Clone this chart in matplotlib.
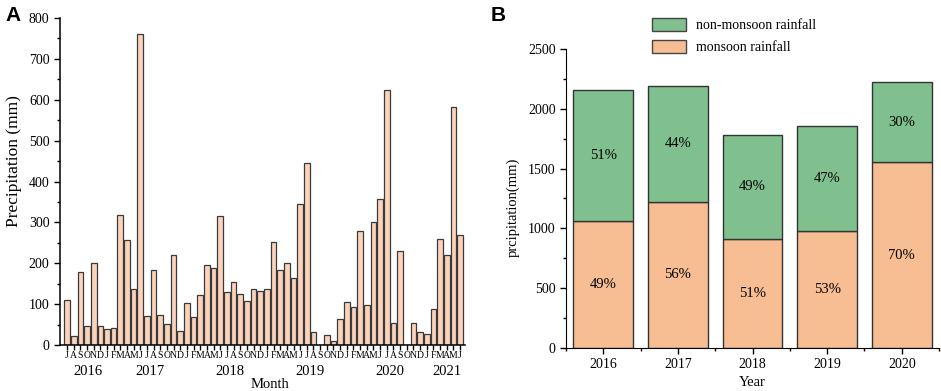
import numpy as np
import matplotlib.pyplot as plt
from matplotlib.ticker import MultipleLocator
from matplotlib.transforms import blended_transform_factory
from matplotlib.patches import Patch

plt.rcParams['font.family'] = ['Liberation Serif', 'DejaVu Serif']

# monthly precipitation, Jul 2016 .. Jun 2021
months = ['J', 'A', 'S', 'O', 'N', 'D'] + ['J', 'F', 'M', 'A', 'M', 'J', 'J', 'A', 'S', 'O', 'N', 'D'] * 4 \
    + ['J', 'F', 'M', 'A', 'M', 'J']
precip = [109, 21, 179, 46, 201, 47,
          39, 42, 318, 256, 136, 762, 70, 184, 73, 52, 221, 35,
          102, 69, 123, 195, 189, 316, 130, 154, 124, 107, 137, 131,
          136, 251, 183, 201, 163, 346, 445, 33, 0, 25, 9, 64,
          105, 93, 279, 98, 300, 358, 624, 54, 229, 0, 54, 33,
          28, 88, 260, 220, 582, 270]
year_labels = ['2016', '2017', '2018', '2019', '2020', '2021']
year_pos = [3.1, 12.4, 24.4, 36.4, 48.4, 57.1]

# yearly monsoon / non-monsoon totals
years = ['2016', '2017', '2018', '2019', '2020']
monsoon = [1062, 1223, 909, 981, 1555]
total = [2160, 2191, 1784, 1856, 2221]
non_monsoon = [t - m for t, m in zip(total, monsoon)]
pct_monsoon = ['49%', '56%', '51%', '53%', '70%']
pct_non = ['51%', '44%', '49%', '47%', '30%']

fig = plt.figure(figsize=(9.41, 3.91), dpi=100)

# ---- panel A ----
ax1 = fig.add_axes([0.0638, 0.1176, 0.4304, 0.8364])
x = np.arange(len(precip))
ax1.bar(x, precip, width=0.85, color='#fbd3bb', edgecolor='#3a3a3a', linewidth=0.9)
ax1.set_xlim(-1.05, 59.75)
ax1.set_ylim(0, 800)
ax1.set_xticks(x)
ax1.set_xticklabels(months, fontsize=7)
ax1.yaxis.set_major_locator(MultipleLocator(100))
ax1.yaxis.set_minor_locator(MultipleLocator(50))
ax1.tick_params(axis='y', labelsize=10, length=4, width=1)
ax1.tick_params(axis='y', which='minor', length=2, width=1)
ax1.tick_params(axis='x', length=3.5, width=1, pad=1)
for s in ['top', 'right']:
    ax1.spines[s].set_visible(False)
for s in ['left', 'bottom']:
    ax1.spines[s].set_linewidth(1.1)
trans = blended_transform_factory(ax1.transData, ax1.transAxes)
for lab, p in zip(year_labels, year_pos):
    ax1.text(p, -0.082, lab, transform=trans, ha='center', va='center', fontsize=10.5)
ax1.set_ylabel('Precipitation (mm)', fontsize=12.5)
ax1.yaxis.set_label_coords(-0.094, 0.563)
fig.text(270 / 941, 3 / 391, 'Month', ha='center', va='baseline', fontsize=10.5)
fig.text(0.006, 0.985, 'A', fontsize=15, fontweight='bold', family='Liberation Sans', va='top')

# ---- panel B ----
ax2 = fig.add_axes([0.6015, 0.11, 0.3965, 0.7647])
xb = np.arange(1, len(years) + 1)
green = '#80c08f'
orange = '#f7be94'
ax2.bar(xb, monsoon, width=0.8, color=orange, edgecolor='#333333', linewidth=1)
ax2.bar(xb, non_monsoon, width=0.8, bottom=monsoon, color=green, edgecolor='#333333', linewidth=1)
for xi, m, n, pm, pn in zip(xb, monsoon, non_monsoon, pct_monsoon, pct_non):
    ax2.text(xi, m / 2, pm, ha='center', va='center', fontsize=10.5)
    ax2.text(xi, m + n / 2, pn, ha='center', va='center', fontsize=10.5)
ax2.set_xlim(0.5, 5.5)
ax2.set_ylim(0, 2500)
ax2.set_xticks(xb)
ax2.set_xticklabels(years)
ax2.xaxis.set_minor_locator(MultipleLocator(0.5))
ax2.yaxis.set_major_locator(MultipleLocator(500))
ax2.yaxis.set_minor_locator(MultipleLocator(250))
ax2.tick_params(axis='both', labelsize=10, length=4, width=1)
ax2.tick_params(which='minor', length=2, width=1)
for s in ['top', 'right']:
    ax2.spines[s].set_visible(False)
ax2.set_ylabel('prcipitation(mm)', fontsize=10.5)
ax2.yaxis.set_label_coords(-0.125, 0.47)
ax2.set_xlabel('Year', fontsize=10.5, labelpad=3)
handles = [Patch(facecolor=green, edgecolor='#444444', label='non-monsoon rainfall'),
           Patch(facecolor=orange, edgecolor='#444444', label='monsoon rainfall')]
fig.legend(handles=handles, loc='upper left', bbox_to_anchor=(0.693, 0.955), frameon=False,
           fontsize=10, handlelength=2.45, handleheight=1.15, handletextpad=0.7,
           labelspacing=0.54, borderpad=0, borderaxespad=0)
fig.text(0.521, 0.985, 'B', fontsize=15, fontweight='bold', family='Liberation Sans', va='top')

fig.savefig('out.png', dpi=100)
